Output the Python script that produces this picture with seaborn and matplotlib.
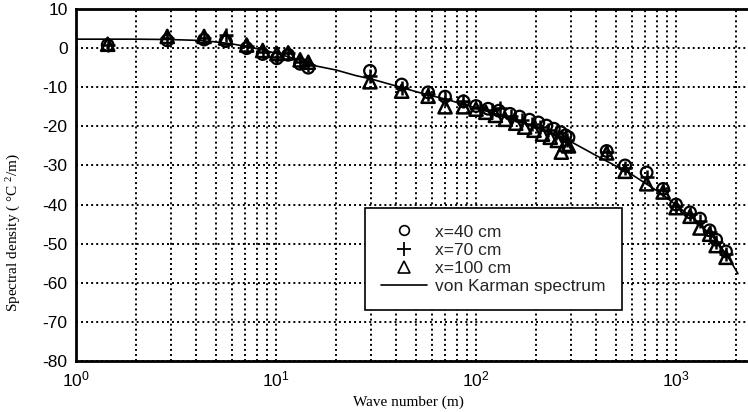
import numpy as np
import pandas as pd
import matplotlib
matplotlib.use("Agg")
import matplotlib.pyplot as plt
import seaborn as sns
from matplotlib.lines import Line2D

# wave numbers and spectral densities (dB)
k_40 = [1.44, 2.86, 4.37, 5.6, 7.13, 8.58, 10.1, 11.5, 13.2, 14.5, 29.5, 42.5,
        57.6, 70, 86.5, 100, 115, 130, 148, 165, 185, 205, 225, 245, 265, 280,
        290, 450, 556, 713, 862, 1000, 1175, 1318, 1472, 1587, 1778]
s_40 = [0.8, 2.0, 2.2, 1.8, 0.0, -1.5, -2.6, -1.7, -4.0, -5.0, -5.8, -9.3,
        -11.3, -12.4, -13.6, -14.8, -15.5, -16.0, -16.8, -17.5, -18.3, -19.0,
        -19.8, -20.6, -21.5, -22.3, -22.8, -26.3, -30.0, -31.8, -36.0, -40.0,
        -42.0, -43.6, -46.6, -49.0, -52.0]

k_70 = [1.44, 2.86, 4.37, 5.6, 7.13, 8.58, 10.1, 11.5, 13.2, 14.5, 29.5, 42.5,
        57.6, 70, 86.5, 105, 120, 132, 150, 170, 190, 210, 230, 250, 270, 285,
        450, 556, 713, 862, 1000, 1175, 1318, 1472, 1587, 1778]
s_70 = [0.9, 2.6, 2.7, 3.3, 0.5, -1.0, -2.2, -1.3, -3.6, -4.4, -7.2, -10.2,
        -11.6, -13.0, -13.4, -15.2, -15.8, -15.4, -17.4, -18.4, -19.4, -20.2,
        -21.0, -21.8, -22.6, -23.4, -26.5, -30.6, -33.0, -36.4, -40.3, -42.4,
        -44.2, -47.0, -49.6, -52.6]

k_100 = [1.44, 2.86, 4.37, 5.6, 7.13, 8.58, 10.1, 11.5, 13.2, 14.5, 29.5,
         42.5, 57.6, 70, 86.5, 100, 112, 125, 140, 158, 175, 195, 215, 235,
         255, 267, 280, 290, 450, 556, 713, 862, 1000, 1175, 1318, 1472, 1587,
         1778]
s_100 = [1.0, 3.0, 3.0, 2.6, 0.8, -0.6, -1.4, -1.2, -3.0, -3.6, -8.6, -11.0,
         -12.3, -15.0, -15.0, -15.6, -16.4, -17.2, -18.2, -19.2, -20.2, -21.0,
         -22.0, -22.8, -23.6, -26.6, -24.6, -25.0, -26.8, -31.5, -34.7, -36.8,
         -40.8, -43.0, -46.0, -47.6, -50.5, -53.5]

k_line = [1, 2, 3, 4, 5, 6, 7, 8, 10, 13, 16, 20, 25, 30, 40, 55, 70, 100,
          150, 200, 300, 400, 600, 850, 1250, 1600, 1870, 2040]
s_line = [2.3, 2.3, 2.2, 2.0, 1.6, 1.1, 0.5, -0.1, -1.3, -3.0, -4.6, -5.6,
          -7.0, -7.9, -9.7, -11.7, -13.0, -15.3, -18.0, -20.3, -24.0, -27.5,
          -32.3, -37.3, -44.0, -49.3, -54.4, -57.7]

y_ticks = [10, 0, -10, -20, -30, -40, -50, -60, -70, -80]

sns.set_theme(style="white")
plt.rcParams["font.family"] = ["Liberation Sans", "DejaVu Sans"]
plt.rcParams["axes.unicode_minus"] = False
plt.rcParams["mathtext.default"] = "regular"

fig = plt.figure(figsize=(7.48, 4.12), dpi=100)
ax = fig.add_axes([0.1016, 0.124, 0.8984, 0.854])

grid_kw = dict(color="black", linestyle=(0, (1, 1.6)), linewidth=1.4)
ax.set_xscale("log")
ax.set_xlim(1, 2290)
ax.set_ylim(-80, 10)
ax.set_yticks(y_ticks)
ax.grid(True, which="major", axis="both", **grid_kw)
ax.grid(True, which="minor", axis="x", **grid_kw)
ax.set_axisbelow(True)

sns.lineplot(x=k_line, y=s_line, color="black", linewidth=1.2, ax=ax,
             estimator=None, sort=False)
sns.scatterplot(x=k_40, y=s_40, marker="o", s=70, facecolor="none",
                edgecolor="black", color="black", linewidth=1.6, ax=ax)
sns.scatterplot(x=k_70, y=s_70, marker="+", s=90, color="black",
                linewidth=1.8, ax=ax)
sns.scatterplot(x=k_100, y=s_100, marker="^", s=90, facecolor="none",
                edgecolor="black", color="black", linewidth=1.8, ax=ax)

for side in ["top", "left", "bottom"]:
    ax.spines[side].set_color("black")
    ax.spines[side].set_linewidth(2.0)
ax.spines["right"].set_visible(False)
ax.tick_params(axis="both", which="both", direction="in", length=0,
               labelsize=12.5, colors="black", pad=6)

ax.set_xlabel("Wave number (m)", family=["Liberation Serif"], fontsize=11,
              color="black")
ax.xaxis.set_label_coords(0.495, -0.097)
ax.set_ylabel("Spectral density ( °C $^{2}$/m)", family=["Liberation Serif"],
              fontsize=11, color="black")
ax.yaxis.set_label_coords(-0.079, 0.366)

handles = [
    Line2D([], [], marker="o", linestyle="none", markerfacecolor="none",
           markeredgecolor="black", markersize=7, markeredgewidth=1.2),
    Line2D([], [], marker="+", linestyle="none", color="black",
           markersize=10, markeredgewidth=1.3),
    Line2D([], [], marker="^", linestyle="none", markerfacecolor="none",
           markeredgecolor="black", markersize=9, markeredgewidth=1.2),
    Line2D([], [], color="black", linewidth=1.2),
]
labels = ["x=40 cm", "x=70 cm", "x=100 cm", "von Karman spectrum"]
leg = ax.legend(handles, labels, loc="upper left",
                bbox_to_anchor=(0.43, 0.435), borderaxespad=0,
                fontsize=12.5, frameon=True, fancybox=False, shadow=False,
                edgecolor="black", framealpha=1, handlelength=2.6,
                handletextpad=0.5, labelspacing=0.17, borderpad=0.95)
leg.get_frame().set_linewidth(1.2)

fig.savefig("out.png", dpi=100)
plt.close(fig)
